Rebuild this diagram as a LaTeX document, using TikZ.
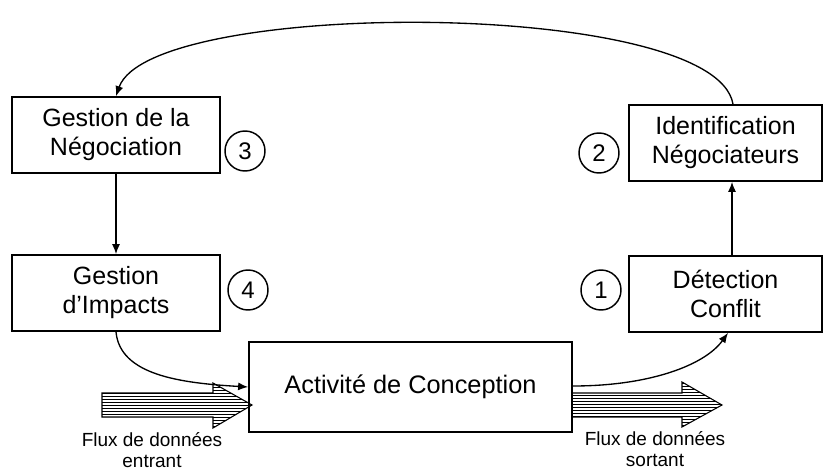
\documentclass[tikz,border=0pt]{standalone}
\usepackage{fontspec}
\setmainfont{Liberation Sans}
\usetikzlibrary{calc,arrows.meta}
\begin{document}
\begin{tikzpicture}[x=0.75pt,y=-0.75pt,
  box/.style={draw,line width=1.3pt,fill=white,align=center,inner sep=0pt,
    font=\fontsize{18.75}{21.75}\selectfont},
  num/.style={draw,circle,line width=1.1pt,minimum size=30pt,inner sep=0pt,
    font=\fontsize{18}{20}\selectfont},
  conn/.style={line width=1pt,-{Latex[length=7.5pt,width=6pt]}},
  flux/.style={align=center,font=\fontsize{14.25}{15.5}\selectfont},
  hatch/.style={line width=0.45pt},
  fluxoutline/.style={line width=0.8pt}]
\useasboundingbox (0,0) rectangle (824,470);
\fill[white] (0,0) rectangle (824,470);

% boxes
\node[box,minimum width=156pt,minimum height=57pt] (gneg) at (116,135) {Gestion de la\\Négociation};
\node[box,minimum width=144.75pt,minimum height=57pt] (ident) at (725.5,143) {Identification\\Négociateurs};
\node[box,minimum width=156pt,minimum height=57pt] (gimp) at (116,293) {Gestion\\d'Impacts};
\node[box,minimum width=144.75pt,minimum height=57pt] (det) at (725.5,294) {Détection\\Conflit};
\node[box,minimum width=242.25pt,minimum height=67.5pt,font=\fontsize{19}{22}\selectfont] (act) at (410.5,387) {Activité de Conception};

% numbers
\node[num] (n3) at (245,151) {3};
\node[num] (n2) at (599,153) {2};
\node[num] (n4) at (248,290) {4};
\node[num] (n1) at (601,290) {1};

% hatched flux arrows
\begin{scope}
  \clip (102,393) -- (213,393) -- (213,383) -- (252,405) -- (213,428) -- (213,417) -- (102,417) -- cycle;
  \foreach \yy in {384,387,...,429} \draw[hatch] (100,\yy) -- (255,\yy);
\end{scope}
\draw[fluxoutline] (102,393) -- (213,393) -- (213,383) -- (252,405) -- (213,428) -- (213,417) -- (102,417) -- cycle;
\begin{scope}
  \clip (572,393) -- (682,393) -- (682,382) -- (722,405) -- (682,427) -- (682,417) -- (572,417) -- cycle;
  \foreach \yy in {383,386,...,428} \draw[hatch] (570,\yy) -- (725,\yy);
\end{scope}
\draw[fluxoutline] (572,393) -- (682,393) -- (682,382) -- (722,405) -- (682,427) -- (682,417) -- (572,417) -- cycle;

\node[flux] (fin) at (152,450) {Flux de données\\entrant};
\node[flux] (fout) at (655,449) {Flux de données\\sortant};

% connectors
\draw[conn] ($(ident.north)+(7.5,0)$) .. controls (715,-2) and (150,-2) .. (gneg.north);
\draw[conn] (gneg.south) -- (gimp.north);
\draw[conn] ($(det.north)+(6.5,0)$) -- ($(ident.south)+(6.5,0)$);
\draw[conn] (gimp.south) .. controls (120,375) and (180,383) .. (act.west);
\draw[conn] ($(act.east)+(0,-1)$) .. controls (650,386) and (705,365) .. ($(det.south)+(2.5,0)$);
\end{tikzpicture}
\end{document}
